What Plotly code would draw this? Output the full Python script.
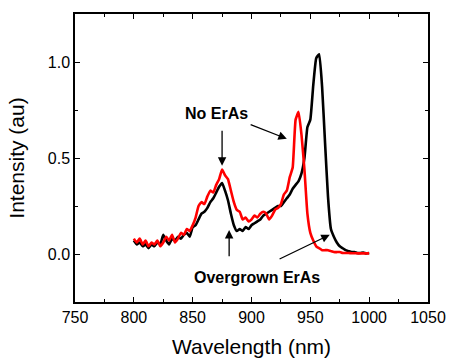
import plotly.graph_objects as go

wavelength = [800 + 2.5 * i for i in range(81)]

overgrown_eras = [
    0.07, 0.05, 0.06, 0.04, 0.05, 0.03, 0.05, 0.04, 0.06, 0.05,
    0.10, 0.07, 0.05, 0.08, 0.07, 0.09, 0.08, 0.10, 0.11, 0.09,
    0.14, 0.15, 0.18, 0.21, 0.22, 0.24, 0.27, 0.29, 0.32, 0.35,
    0.37, 0.33, 0.28, 0.21, 0.15, 0.12, 0.13, 0.12, 0.14, 0.13,
    0.15, 0.16, 0.17, 0.18, 0.20, 0.21, 0.22, 0.23, 0.24, 0.25,
    0.25, 0.27, 0.29, 0.31, 0.34, 0.36, 0.38, 0.42, 0.50, 0.66,
    0.70, 0.88, 1.02, 1.04, 0.87, 0.58, 0.30, 0.13, 0.09, 0.06,
    0.04, 0.03, 0.02, 0.015, 0.01, 0.01, 0.005, 0.005, 0.008, 0.003,
    0.005,
]

no_eras = [
    0.08, 0.06, 0.08, 0.05, 0.07, 0.04, 0.06, 0.05, 0.07, 0.04,
    0.06, 0.09, 0.07, 0.10, 0.06, 0.08, 0.11, 0.10, 0.13, 0.12,
    0.15, 0.19, 0.25, 0.27, 0.26, 0.30, 0.33, 0.32, 0.36, 0.39,
    0.44, 0.41, 0.39, 0.33, 0.27, 0.23, 0.22, 0.18, 0.19, 0.17,
    0.18, 0.20, 0.19, 0.21, 0.22, 0.21, 0.18, 0.20, 0.23, 0.24,
    0.26, 0.31, 0.33, 0.40, 0.45, 0.70, 0.74, 0.62, 0.44, 0.21,
    0.11, 0.07, 0.04, 0.03, 0.02, 0.02, 0.02, 0.015, 0.01, 0.01,
    0.01, 0.005, 0.005, 0.005, 0.004, 0.004, 0.003, 0.003, 0.003, 0.003,
    0.003,
]

x_ticks = [750, 800, 850, 900, 950, 1000, 1050]
y_ticks = [0.0, 0.5, 1.0]
y_tick_labels = ["0.0", "0.5", "1.0"]

FONT = "Liberation Sans, Arial, sans-serif"

fig = go.Figure()
fig.add_trace(go.Scatter(x=wavelength, y=overgrown_eras, mode="lines",
                         line=dict(color="black", width=2.6, shape="spline", smoothing=0.4),
                         name="Overgrown ErAs"))
fig.add_trace(go.Scatter(x=wavelength, y=no_eras, mode="lines",
                         line=dict(color="#ff0000", width=2.6, shape="spline", smoothing=0.4),
                         name="No ErAs"))

def arrow(x0, y0, x1, y1):
    fig.add_annotation(x=x1, y=y1, ax=x0, ay=y0, xref="x", yref="y",
                       axref="x", ayref="y", showarrow=True, text="",
                       arrowhead=2, arrowsize=1.3, arrowwidth=1.3, arrowcolor="black")

arrow(875, 0.65, 875, 0.46)
arrow(898, 0.677, 930, 0.60)
arrow(881, -0.02, 881, 0.125)
arrow(922.6, -0.03, 966.5, 0.10)

fig.add_annotation(x=870, y=0.73, text="<b>No ErAs</b>", showarrow=False,
                   font=dict(family=FONT, size=16, color="black"))
fig.add_annotation(x=905, y=-0.12, text="<b>Overgrown ErAs</b>", showarrow=False,
                   font=dict(family=FONT, size=16, color="black"))

axis_common = dict(showline=True, linecolor="black", linewidth=1.5, mirror="ticks",
                   ticks="inside", ticklen=5, tickwidth=1.2, tickcolor="black",
                   showgrid=False, zeroline=False, automargin=False,
                   tickfont=dict(family=FONT, size=16, color="black"))

fig.update_xaxes(range=[750, 1050], tickvals=x_ticks,
                 minor=dict(ticks="inside", ticklen=3, tickwidth=1.2, tickcolor="black", dtick=25, tick0=750),
                 title=dict(text="Wavelength (nm)", font=dict(family=FONT, size=21, color="black"), standoff=14),
                 **axis_common)
fig.update_yaxes(range=[-0.25, 1.25], tickvals=y_ticks, ticktext=y_tick_labels,
                 minor=dict(ticks="inside", ticklen=3, tickwidth=1.2, tickcolor="black", dtick=0.25, tick0=0),
                 title=dict(text="Intensity (au)", font=dict(family=FONT, size=21, color="black"), standoff=17),
                 **axis_common)

fig.update_layout(width=449, height=358, margin=dict(l=75, r=21, t=14, b=56),
                  plot_bgcolor="white", paper_bgcolor="white", showlegend=False)

fig.write_html("out.html", config={"displayModeBar": False},
               post_script="document.body.style.margin='0';document.body.style.overflow='hidden';")
